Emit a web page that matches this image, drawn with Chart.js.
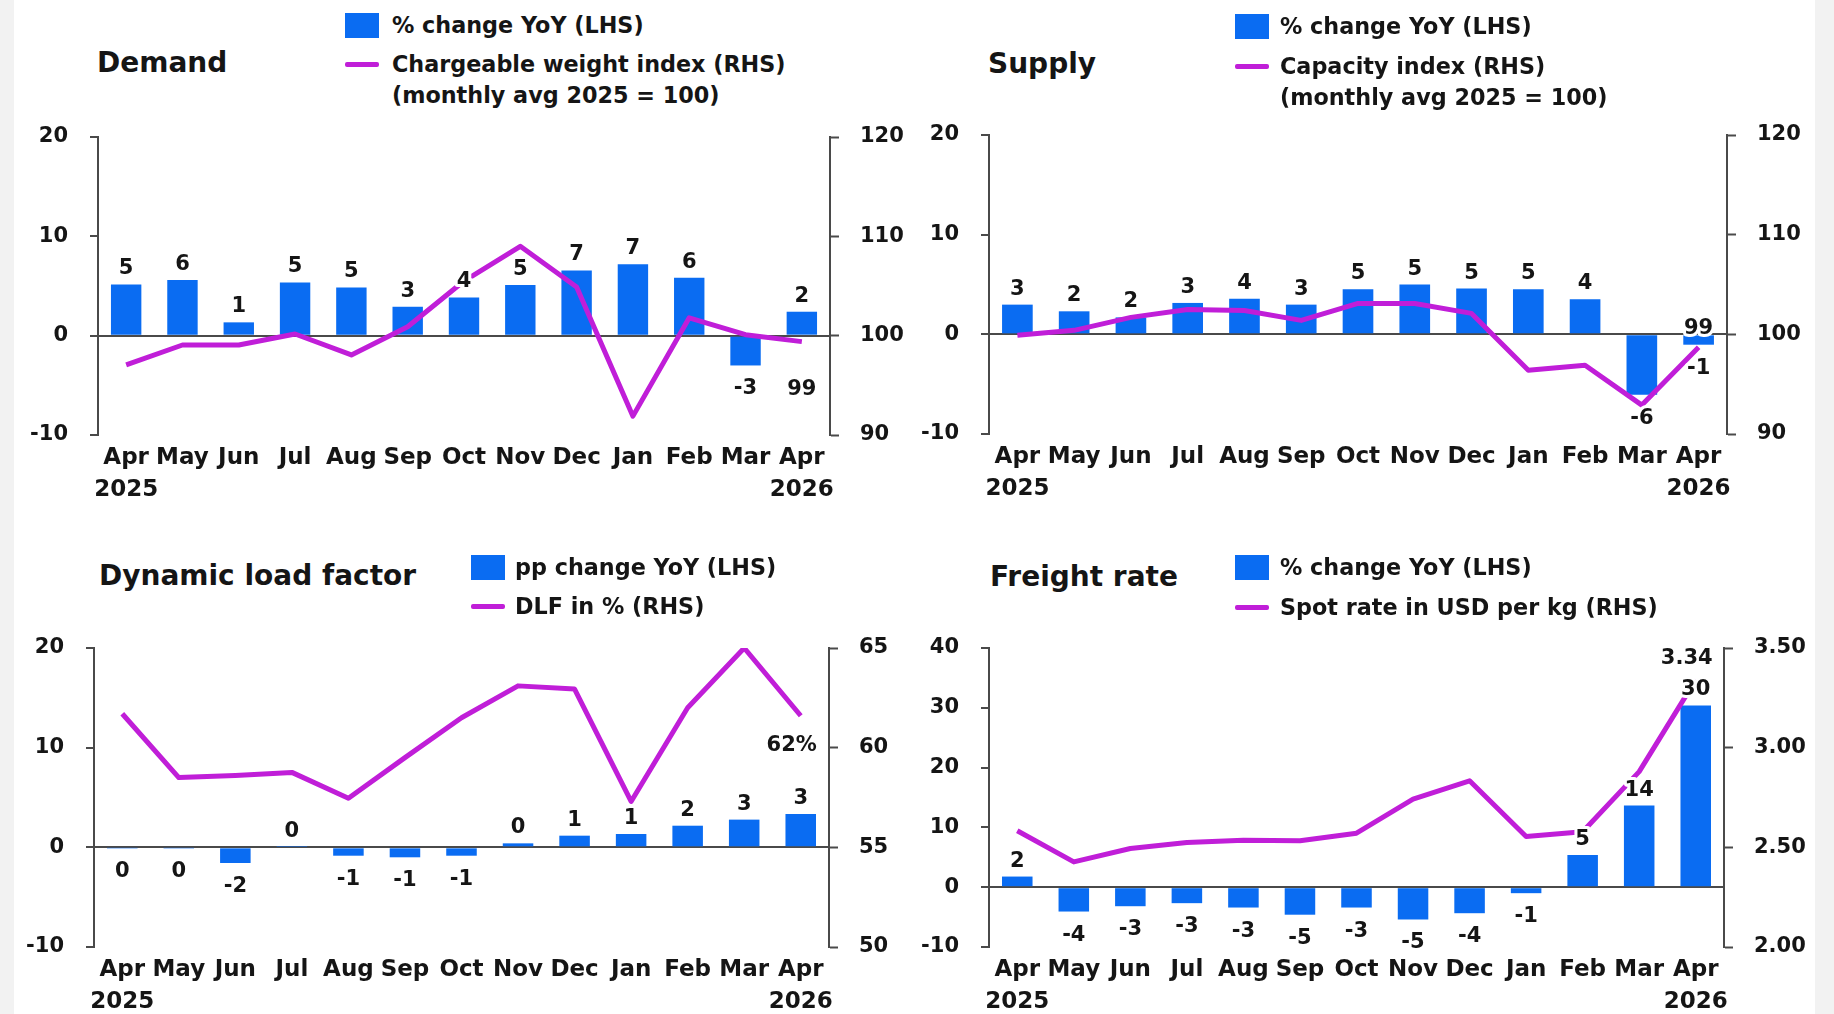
<!DOCTYPE html>
<html>
<head>
<meta charset="utf-8">
<title>Air cargo market indicators</title>
<script src="https://cdn.jsdelivr.net/npm/chart.js@4.4.1/dist/chart.umd.min.js"></script>
<style>
  html, body { margin: 0; padding: 0; }
  body {
    width: 1834px; height: 1014px; position: relative; overflow: hidden;
    background: #fff; color: #151515;
    font-family: "DejaVu Sans", sans-serif; font-weight: bold;
  }
  .strip { position: absolute; top: 0; bottom: 0; background: #f2f2f2; }
  .box { position: absolute; }
  .title { position: absolute; font-size: 28px; line-height: 34px; white-space: nowrap; }
  .leg { position: absolute; font-size: 22.3px; line-height: 30px; white-space: nowrap; }
  .sw-bar { position: absolute; width: 34px; height: 25px; background: #0a6cf2; }
  .sw-line { position: absolute; width: 34px; height: 5px; background: #c01ed8; border-radius: 2px; }
</style>
</head>
<body>
<div class="strip" style="left:0;width:14px"></div>
<div class="strip" style="left:1815px;width:19px"></div>

<div class="box" style="left:0;top:110px;width:917px;height:400px"><canvas id="demand"></canvas></div>
<div class="box" style="left:917px;top:110px;width:917px;height:400px"><canvas id="supply"></canvas></div>
<div class="box" style="left:0;top:620px;width:917px;height:394px"><canvas id="dlf"></canvas></div>
<div class="box" style="left:917px;top:620px;width:917px;height:394px"><canvas id="freight"></canvas></div>

<script>
// categories
const months = [['Apr', '2025'], 'May', 'Jun', 'Jul', 'Aug', 'Sep', 'Oct', 'Nov', 'Dec', 'Jan', 'Feb', 'Mar', ['Apr', '2026']];

// Demand
const demandYoY = [5.16, 5.6, 1.34, 5.36, 4.86, 2.91, 3.85, 5.09, 6.57, 7.2, 5.83, -3.0, 2.41];
const demandIndex = [97.05, 99.06, 99.06, 100.17, 98.06, 100.9, 105.5, 109.0, 104.9, 91.9, 101.8, 100.1, 99.4];

// Supply
const supplyYoY = [2.98, 2.31, 1.7, 3.15, 3.58, 2.98, 4.52, 4.99, 4.59, 4.52, 3.52, -6.06, -1.04];
const supplyIndex = [99.9, 100.4, 101.7, 102.5, 102.4, 101.4, 103.1, 103.1, 102.1, 96.4, 96.9, 92.9, 98.7];

// Dynamic load factor
const dlfChange = [-0.05, -0.05, -1.57, 0.05, -0.84, -1.0, -0.84, 0.4, 1.17, 1.34, 2.17, 2.78, 3.34];
const dlfPercent = [61.7, 58.5, 58.6, 58.76, 57.46, 59.5, 61.5, 63.1, 62.94, 57.3, 62.0, 65.0, 61.6];

// Freight rate
const freightYoY = [1.78, -4.07, -3.18, -2.67, -3.4, -4.6, -3.4, -5.4, -4.35, -1.0, 5.4, 13.65, 30.4];
const spotRate = [2.583, 2.427, 2.494, 2.524, 2.536, 2.533, 2.571, 2.742, 2.834, 2.554, 2.578, 2.88, 3.34];

// axis ranges: [min, max, step]
const demandLeft = [-10, 20, 10], demandRight = [90, 120, 10];
const supplyLeft = [-10, 20, 10], supplyRight = [90, 120, 10];
const dlfLeft = [-10, 20, 10], dlfRight = [50, 65, 5];
const freightLeft = [-10, 40, 10], freightRight = [2, 3.5, 0.5];

const BLUE = '#0a6cf2';
const MAGENTA = '#c01ed8';
const AXIS = '#4a4a4a';
const INK = '#151515';
const FONT = '"DejaVu Sans", sans-serif';

Chart.defaults.font.family = FONT;
Chart.defaults.font.weight = 'bold';
Chart.defaults.font.size = 21;
Chart.defaults.color = INK;

// writes rounded values next to bars and the last point of the line
const valueLabels = {
  id: 'valueLabels',
  afterDatasetsDraw(chart, args, opts) {
    const ctx = chart.ctx;
    ctx.save();
    ctx.font = 'bold 21px ' + FONT;
    ctx.textAlign = 'center';
    ctx.textBaseline = 'alphabetic';
    ctx.lineJoin = 'round';
    ctx.lineWidth = 6;
    ctx.strokeStyle = '#fff';
    ctx.fillStyle = INK;
    function put(txt, x, y) {
      ctx.strokeText(txt, x, y);
      ctx.fillText(txt, x, y);
    }
    const bars = chart.data.datasets[0].data;
    chart.getDatasetMeta(0).data.forEach(function(bar, i) {
      const v = bars[i];
      const txt = String(Math.round(v));
      put(txt, bar.x, v >= 0 ? bar.y - 10 : bar.y + 29);
    });
    const line = chart.data.datasets[1].data;
    const pts = chart.getDatasetMeta(1).data;
    const last = pts[pts.length - 1];
    put(opts.format(line[line.length - 1]), last.x + opts.dx, last.y + opts.dy);
    ctx.restore();
  }
};

function makeChart(id, cfg) {
  const box = document.getElementById(id).parentNode;
  const h = box.offsetHeight, w = box.offsetWidth;
  return new Chart(document.getElementById(id), {
    type: 'bar',
    data: {
      labels: months,
      datasets: [
        {
          type: 'bar', data: cfg.bars, yAxisID: 'y', order: 2,
          backgroundColor: BLUE, barPercentage: 0.54, categoryPercentage: 1
        },
        {
          type: 'line', data: cfg.line, yAxisID: 'y1', order: 1,
          borderColor: MAGENTA, borderWidth: 5, pointRadius: 0, tension: 0,
          borderJoinStyle: 'round', borderCapStyle: 'butt'
        }
      ]
    },
    options: {
      responsive: true,
      maintainAspectRatio: false,
      animation: false,
      events: [],
      layout: { padding: { top: cfg.area.top, left: 0, right: 0, bottom: 0 } },
      plugins: {
        legend: { display: false },
        tooltip: { enabled: false },
        valueLabels: cfg.end
      },
      scales: {
        x: {
          grid: { display: false, drawTicks: false },
          border: { display: false },
          ticks: {
            autoSkip: false, maxRotation: 0, padding: 7,
            font: { size: 23, lineHeight: 1.39 }
          },
          afterFit: function(s) { s.height = h - cfg.area.bottom; }
        },
        y: {
          position: 'left',
          min: cfg.left[0], max: cfg.left[1],
          ticks: { stepSize: cfg.left[2], padding: 22 },
          grid: {
            drawOnChartArea: true,
            color: function(c) { return c.tick && c.tick.value === 0 ? AXIS : 'rgba(0,0,0,0)'; },
            lineWidth: 2, tickColor: AXIS, tickLength: 8, tickWidth: 2
          },
          border: { display: true, color: AXIS, width: 2 },
          afterFit: function(s) { s.width = cfg.area.left; s.paddingTop = 0; s.paddingBottom = 0; }
        },
        y1: {
          position: 'right',
          min: cfg.right[0], max: cfg.right[1],
          ticks: {
            stepSize: cfg.right[2], padding: 21,
            callback: cfg.rightFmt || function(v) { return v; }
          },
          grid: { drawOnChartArea: false, tickColor: AXIS, tickLength: 9, tickWidth: 2 },
          border: { display: true, color: AXIS, width: 2 },
          afterFit: function(s) { s.width = w - cfg.area.right; s.paddingTop = 0; s.paddingBottom = 0; }
        }
      }
    },
    plugins: [valueLabels]
  });
}

makeChart('demand', {
  bars: demandYoY, line: demandIndex, left: demandLeft, right: demandRight,
  area: { left: 98, right: 830, top: 27, bottom: 325 },
  end: { dx: 0, dy: 53, format: function(v) { return String(Math.round(v)); } }
});
makeChart('supply', {
  bars: supplyYoY, line: supplyIndex, left: supplyLeft, right: supplyRight,
  area: { left: 72, right: 810, top: 25, bottom: 324 },
  end: { dx: 0, dy: -13, format: function(v) { return String(Math.round(v)); } }
});
makeChart('dlf', {
  bars: dlfChange, line: dlfPercent, left: dlfLeft, right: dlfRight,
  area: { left: 94, right: 829, top: 28, bottom: 327 },
  end: { dx: -9, dy: 35, format: function(v) { return Math.round(v) + '%'; } }
});
makeChart('freight', {
  bars: freightYoY, line: spotRate, left: freightLeft, right: freightRight,
  area: { left: 72, right: 807, top: 28, bottom: 327 },
  rightFmt: function(v) { return v.toFixed(2); },
  end: { dx: -9, dy: -16, format: function(v) { return v.toFixed(2); } }
});

// titles and legends
const panels = [
  { title: 'Demand', tx: 97, ty: 63, sx: 345, lx: 392,
    rows: [['bar', '% change YoY (LHS)', 25], ['line', 'Chargeable weight index (RHS)', 64], ['', '(monthly avg 2025 = 100)', 95]] },
  { title: 'Supply', tx: 988, ty: 64, sx: 1235, lx: 1280,
    rows: [['bar', '% change YoY (LHS)', 26], ['line', 'Capacity index (RHS)', 66], ['', '(monthly avg 2025 = 100)', 97]] },
  { title: 'Dynamic load factor', tx: 99, ty: 576, sx: 471, lx: 515,
    rows: [['bar', 'pp change YoY (LHS)', 567], ['line', 'DLF in % (RHS)', 606]] },
  { title: 'Freight rate', tx: 990, ty: 577, sx: 1235, lx: 1280,
    rows: [['bar', '% change YoY (LHS)', 567], ['line', 'Spot rate in USD per kg (RHS)', 607]] }
];

panels.forEach(function(p) {
  const t = document.createElement('div');
  t.className = 'title';
  t.textContent = p.title;
  t.style.left = p.tx + 'px';
  t.style.top = (p.ty - 17) + 'px';
  document.body.appendChild(t);
  p.rows.forEach(function(r) {
    if (r[0]) {
      const sw = document.createElement('div');
      sw.className = r[0] === 'bar' ? 'sw-bar' : 'sw-line';
      sw.style.left = p.sx + 'px';
      sw.style.top = (r[2] - (r[0] === 'bar' ? 12.5 : 2.5)) + 'px';
      document.body.appendChild(sw);
    }
    const l = document.createElement('div');
    l.className = 'leg';
    l.textContent = r[1];
    l.style.left = p.lx + 'px';
    l.style.top = (r[2] - 15) + 'px';
    document.body.appendChild(l);
  });
});
</script>
</body>
</html>
